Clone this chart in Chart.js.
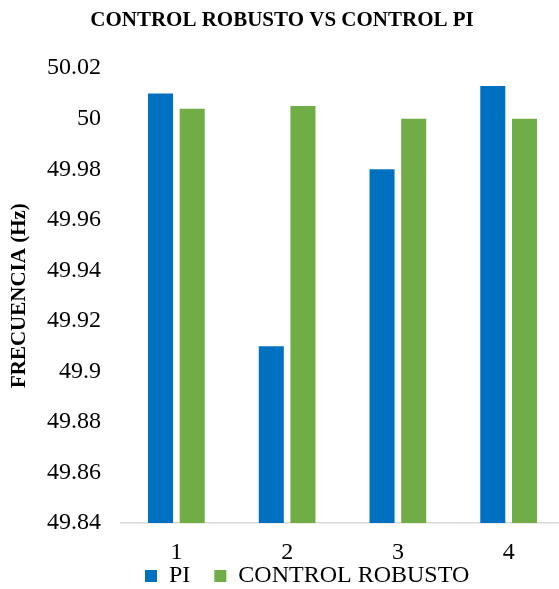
<!DOCTYPE html>
<html>
<head>
<meta charset="utf-8">
<script src="https://cdn.jsdelivr.net/npm/chart.js@4"></script>
<style>
  html, body { margin: 0; padding: 0; background: #fff; overflow: hidden; }
  #wrap { width: 566px; height: 598px; }
</style>
</head>
<body>
<div id="wrap"><canvas id="freqChart"></canvas></div>
<script>
const categories = ["1", "2", "3", "4"];
const piValues = [50.010, 49.910, 49.980, 50.013];
const robustValues = [50.004, 50.005, 50.000, 50.000];
const yTickLabels = ["49.84", "49.86", "49.88", "49.9", "49.92", "49.94", "49.96", "49.98", "50", "50.02"];

const serif = "'Liberation Serif', 'Times New Roman', serif";

const ctx = document.getElementById("freqChart").getContext("2d");

new Chart(ctx, {
  type: "bar",
  data: {
    labels: categories,
    datasets: [
      { label: "PI", data: piValues, backgroundColor: "#0070C0" },
      { label: "CONTROL ROBUSTO", data: robustValues, backgroundColor: "#70AD47" }
    ]
  },
  options: {
    responsive: true,
    maintainAspectRatio: false,
    animation: false,
    categoryPercentage: 0.572,
    barPercentage: 0.79,
    layout: { padding: { left: 0, right: 2, top: 0, bottom: 0 } },
    plugins: {
      title: {
        display: true,
        text: "CONTROL ROBUSTO VS CONTROL PI",
        color: "#000",
        font: { family: serif, size: 21, weight: "bold" },
        padding: { top: 8, bottom: 35 }
      },
      legend: {
        position: "bottom",
        fullSize: false,
        align: "start",
        labels: {
          color: "#000",
          font: { family: serif, size: 24, lineHeight: 1 },
          boxWidth: 12,
          boxHeight: 12,
          padding: 24
        }
      },
      tooltip: { enabled: false }
    },
    scales: {
      x: {
        grid: { display: false, drawTicks: false },
        border: { display: true, color: "#d9d9d9", width: 1.5 },
        afterFit: function (scale) {
          scale.height = 17;
        },
        // mirrored labels are not clipped to the (short) axis box
        ticks: {
          color: "#000",
          font: { family: serif, size: 24, lineHeight: 1 },
          mirror: true,
          padding: -41.5
        }
      },
      y: {
        min: 49.84,
        max: 50.02,
        grid: { display: false, drawTicks: false },
        border: { display: false },
        afterFit: function (scale) {
          scale.width = 121;
        },
        title: {
          display: true,
          text: "FRECUENCIA (Hz)",
          color: "#000",
          font: { family: serif, size: 21, weight: "bold" },
          padding: { top: 7, bottom: 15 }
        },
        ticks: {
          stepSize: 0.02,
          color: "#000",
          font: { family: serif, size: 24 },
          padding: 20,
          callback: function (value, index) {
            return yTickLabels[index];
          }
        }
      }
    }
  }
});
</script>
</body>
</html>
